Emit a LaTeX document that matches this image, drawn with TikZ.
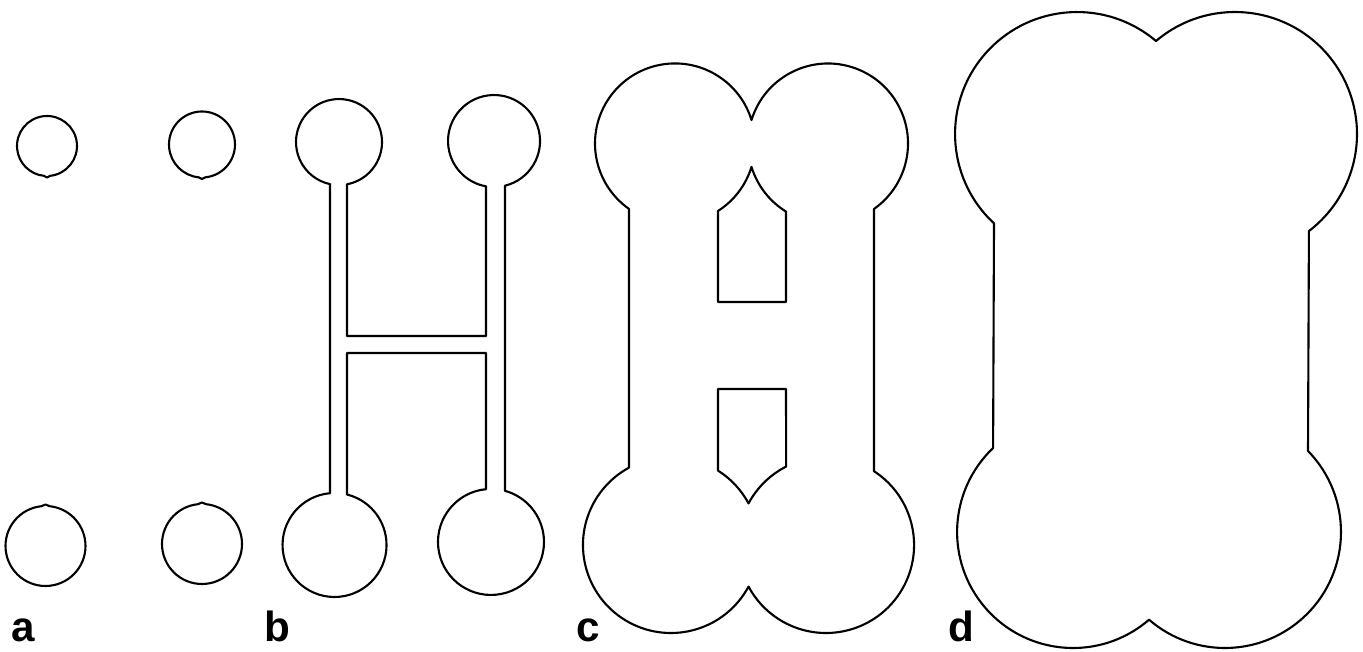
\documentclass[tikz,border=0pt]{standalone}
\usepackage{fontspec}
\newfontfamily\panelfont{Liberation Sans}
\tikzset{
  outline/.style={line width=1.2pt,draw=black,line join=round},
  panellbl/.style={font=\panelfont\bfseries\fontsize{24}{28}\selectfont,anchor=base west,inner sep=0pt}
}

\begin{document}
\begin{tikzpicture}[x=0.02cm,y=0.02cm]
\useasboundingbox (0,0) rectangle (1363,652);

\draw[outline] (47,506) ++(-84:30) arc[start angle=-84,end angle=264,radius=30] -- (47,474.5) -- cycle;
\draw[outline] (202,507.5) ++(-84:33) arc[start angle=-84,end angle=264,radius=33] -- (202,473) -- cycle;
\draw[outline] (45.5,106) ++(96:40) arc[start angle=96,end angle=444,radius=40] -- (45.5,147.5) -- cycle;
\draw[outline] (202,108) ++(96:40) arc[start angle=96,end angle=444,radius=40] -- (202,149.5) -- cycle;

\draw[outline] (339,510) ++(-102.1:43) -- (330,158.8)
  arc[start angle=95,end angle=436.1,radius=52] -- (347,299) -- (486,299) -- (486,162.8)
  arc[start angle=95.4,end angle=434.7,radius=53] -- (505,466.3)
  arc[start angle=-76.2,end angle=260,radius=46] -- (486,316) -- (347,316) -- (347,467.7)
  arc[start angle=-79.3,end angle=257.9,radius=43] -- cycle;

\draw[outline] (828,508.5) ++(163:80)
  arc[start angle=163,end angle=-54.9,radius=80] -- (874,180.8)
  arc[start angle=57,end angle=-151.8,radius=88]
  arc[start angle=-28.2,end angle=-241.5,radius=88] -- (629,443.1)
  arc[start angle=234.9,end angle=17,radius=80] -- cycle;
\draw[outline] (675,508.5) ++(-57.5:80)
  arc[start angle=-57.5,end angle=-17,radius=80]
  arc[start angle=-163,end angle=-121.7,radius=80] -- (786,350) -- (718,350) -- cycle;
\draw[outline] (718,263) -- (718,181.4)
  arc[start angle=57.7,end angle=28.2,radius=88]
  arc[start angle=151.8,end angle=117,radius=88] -- (786,263) -- cycle;

\draw[outline] (1235,518) ++(130.4:122)
  arc[start angle=130.4,end angle=-52.7,radius=122] -- (1308,201)
  arc[start angle=44.3,end angle=-130.9,radius=116]
  arc[start angle=-49.1,end angle=-226.4,radius=116] -- (994,428.6)
  arc[start angle=227.1,end angle=49.6,radius=122] -- cycle;

\node[panellbl] (lbla) at (11,10) {a};
\node[panellbl] (lblb) at (264,10) {b};
\node[panellbl] (lblc) at (576,10) {c};
\node[panellbl] (lbld) at (948,10) {d};
\end{tikzpicture}
\end{document}
